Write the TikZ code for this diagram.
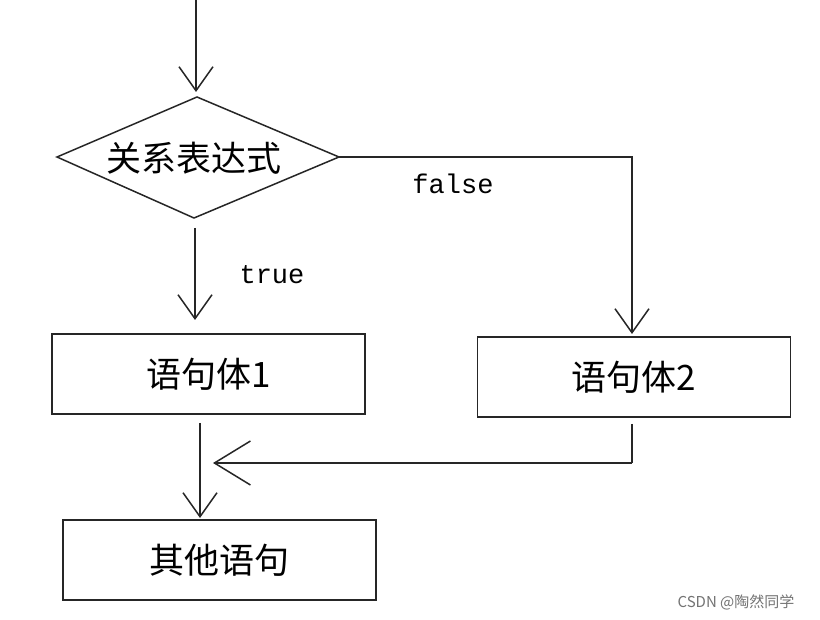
\documentclass[tikz,border=0pt]{standalone}
\usepackage{fontspec}
\newfontfamily\cjk{Noto Sans CJK SC}
\newfontfamily\mono{Liberation Mono}
\usetikzlibrary{arrows.meta,shapes.geometric}
\begin{document}
\begin{tikzpicture}[x=1pt,y=-1pt,
  line width=1.5pt, draw=black!85,
  box/.style={draw=black!85, line width=1.5pt, minimum width=313pt, minimum height=80pt, inner sep=0pt, font=\cjk\fontsize{35}{37}\selectfont},
  lab/.style={font=\mono\fontsize{27}{30}\selectfont, inner sep=0pt},
  arr/.style={-{Straight Barb[length=24pt,width=34pt,line width=1.5pt]}},
  bigarr/.style={-{Straight Barb[length=36pt,width=44pt,line width=1.5pt]}}]
\useasboundingbox (0,0) rectangle (820,620);
\fill[white] (0,0) rectangle (820,620);
% diamond
\coordinate (dT) at (197,97);
\coordinate (dB) at (194,218);
\coordinate (dL) at (57,157);
\coordinate (dR) at (339,157);
\draw[line width=1.5pt] (dT) -- (dR) -- (dB) -- (dL) -- cycle;
\node[font=\cjk\fontsize{35}{37}\selectfont, inner sep=0pt] (cond) at (194,158) {关系表达式};
% boxes
\node[box] (b1) at (208.5,374) {语句体1};
\node[box] (b2) at (634,377) {语句体2};
\node[box] (b3) at (219.5,560) {其他语句};
% top arrow
\coordinate (top) at (196,0);
\draw[arr] (top) -- (196,92);
% true branch
\coordinate (t0) at (195,228);
\draw[arr] (t0) -- (195,320);
\node[lab] (tl) at (272,275) {true};
% false branch
\coordinate (f1) at (632,157);
\draw[arr] (dR) -- (f1) -- (632,334);
\node[lab] (fl) at (453,184) {false};
% merge
\coordinate (m0) at (632,424);
\coordinate (m1) at (632,463);
\coordinate (m2) at (213,463);
\draw (m0) -- (m1);
\draw[bigarr] (m1) -- (m2);
\coordinate (s0) at (200,423);
\draw[arr] (s0) -- (200,518);
% watermark
\node[font=\fontspec{Noto Sans CJK SC}\fontsize{15}{17}\selectfont, text=black!55, inner sep=0pt] (wm) at (736,602) {CSDN @陶然同学};
\end{tikzpicture}
\end{document}
